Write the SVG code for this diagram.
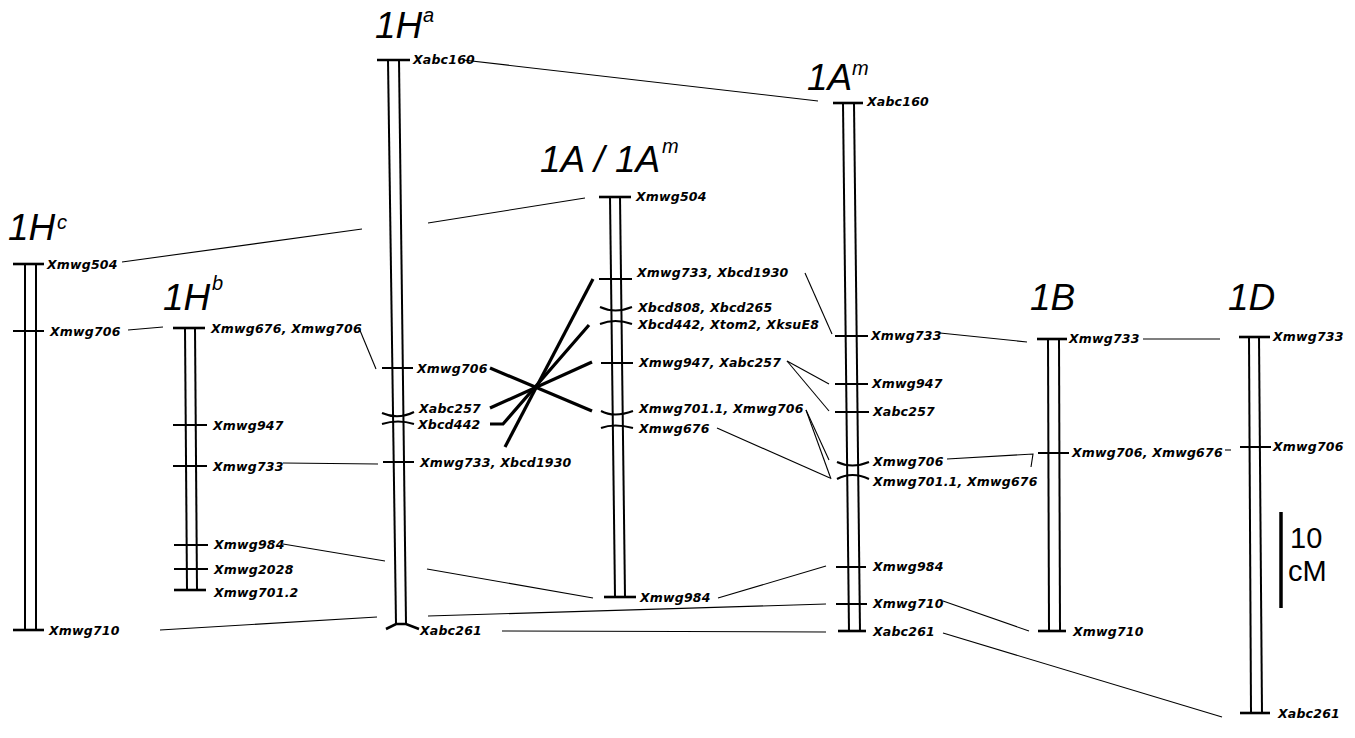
<svg xmlns="http://www.w3.org/2000/svg" width="1355" height="738" viewBox="0 0 1355 738">
<style>
.bar{stroke:#000;stroke-width:2;fill:none}
.tk{stroke:#000;stroke-width:2;fill:none}
.end{stroke:#000;stroke-width:2.6;fill:none}
.lb{font-family:"DejaVu Sans",sans-serif;font-size:12.5px;font-weight:bold;font-style:oblique;letter-spacing:0.2px;fill:#000}
.ti{font-family:"Liberation Sans",sans-serif;font-size:37px;font-style:italic;fill:#000}
.sp{font-family:"Liberation Sans",sans-serif;font-size:20px;font-style:italic;fill:#000}
.cn{stroke:#000;stroke-width:1.1;fill:none}
.cx{stroke:#000;stroke-width:3.2;fill:none}
.sc{font-family:"Liberation Sans",sans-serif;font-size:29px;fill:#000}
</style>
<rect width="1355" height="738" fill="#fff"/>

<g id="chr-1Hc">
<text class="ti" x="8" y="240">1H</text><text class="sp" x="57" y="229">c</text>
<line class="bar" x1="25" y1="264" x2="25" y2="630"/>
<line class="bar" x1="36" y1="264" x2="36" y2="630"/>
<line class="end" x1="13" y1="264" x2="44" y2="264"/>
<line class="tk" x1="13" y1="331" x2="44" y2="331"/>
<line class="end" x1="13" y1="630" x2="44" y2="630"/>
<text class="lb" x="47" y="268.5">Xmwg504</text>
<text class="lb" x="50" y="335.5">Xmwg706</text>
<text class="lb" x="49" y="634.5">Xmwg710</text>
</g>

<g id="chr-1Hb">
<text class="ti" x="163" y="310">1H</text><text class="sp" x="212" y="290">b</text>
<line class="bar" x1="185" y1="328" x2="187" y2="590"/>
<line class="bar" x1="195" y1="328" x2="197" y2="590"/>
<line class="end" x1="173" y1="328" x2="205" y2="328"/>
<line class="tk" x1="173" y1="425" x2="207" y2="425"/>
<line class="tk" x1="173" y1="466" x2="207" y2="466"/>
<line class="tk" x1="174" y1="545" x2="208" y2="545"/>
<line class="tk" x1="174" y1="569" x2="208" y2="569"/>
<line class="end" x1="174" y1="590" x2="206" y2="590"/>
<text class="lb" x="211" y="332.5">Xmwg676,  Xmwg706</text>
<text class="lb" x="213" y="429.5">Xmwg947</text>
<text class="lb" x="213" y="470.5">Xmwg733</text>
<text class="lb" x="214" y="549">Xmwg984</text>
<text class="lb" x="214" y="573.5">Xmwg2028</text>
<text class="lb" x="214" y="597">Xmwg701.2</text>
</g>

<g id="chr-1Ha">
<text class="ti" x="375" y="38">1H</text><text class="sp" x="423" y="22">a</text>
<line class="bar" x1="388" y1="60" x2="396" y2="624"/>
<line class="bar" x1="399" y1="60" x2="406" y2="624"/>
<line class="end" x1="377" y1="60" x2="410" y2="60"/>
<line class="tk" x1="382" y1="368" x2="413" y2="368"/>
<path class="tk" d="M382,413 Q398,420 414,412"/>
<path class="tk" d="M382,424 Q398,419 414,424"/>
<line class="tk" x1="383" y1="462" x2="414" y2="462"/>
<path class="end" d="M386,629 L396,624 L406,624 L419,629"/>
<text class="lb" x="413" y="64">Xabc160</text>
<text class="lb" x="417" y="372.5">Xmwg706</text>
<text class="lb" x="419" y="412.5">Xabc257</text>
<text class="lb" x="418" y="428.5">Xbcd442</text>
<text class="lb" x="420" y="466.5">Xmwg733,  Xbcd1930</text>
<text class="lb" x="420" y="635">Xabc261</text>
</g>

<g id="chr-1A-1Am">
<text class="ti" x="540" y="172">1A</text><text class="ti" x="594" y="172">/</text><text class="ti" x="615" y="172">1A</text><text class="sp" x="662" y="153">m</text>
<line class="bar" x1="610" y1="197" x2="615" y2="597"/>
<line class="bar" x1="620" y1="197" x2="625" y2="597"/>
<line class="end" x1="599" y1="197" x2="631" y2="197"/>
<line class="tk" x1="599" y1="279" x2="632" y2="279"/>
<path class="tk" d="M600,307 Q615,314 632,307"/>
<path class="tk" d="M600,324 Q615,318 632,324"/>
<line class="tk" x1="601" y1="363" x2="633" y2="363"/>
<path class="tk" d="M601,411 Q614,418 633,411"/>
<path class="tk" d="M601,428 Q614,423 633,428"/>
<line class="end" x1="604" y1="597" x2="636" y2="597"/>
<text class="lb" x="636" y="200.5">Xmwg504</text>
<text class="lb" x="637" y="277">Xmwg733,  Xbcd1930</text>
<text class="lb" x="638" y="312">Xbcd808,  Xbcd265</text>
<text class="lb" x="638" y="328.5">Xbcd442, Xtom2, XksuE8</text>
<text class="lb" x="639" y="366.5">Xmwg947,  Xabc257</text>
<text class="lb" x="639" y="413">Xmwg701.1,  Xmwg706</text>
<text class="lb" x="639" y="433">Xmwg676</text>
<text class="lb" x="640" y="601.5">Xmwg984</text>
</g>

<g id="chr-1Am">
<text class="ti" x="807" y="90">1A</text><text class="sp" x="852" y="75">m</text>
<line class="bar" x1="843" y1="103" x2="849" y2="631"/>
<line class="bar" x1="854" y1="103" x2="860" y2="631"/>
<line class="end" x1="833" y1="103" x2="863" y2="103"/>
<line class="tk" x1="835" y1="336" x2="868" y2="336"/>
<line class="tk" x1="835" y1="384" x2="868" y2="384"/>
<line class="tk" x1="835" y1="412" x2="869" y2="412"/>
<path class="tk" d="M837,462 Q852,469 869,462"/>
<path class="tk" d="M837,479 Q852,471 869,479"/>
<line class="tk" x1="836" y1="567" x2="866" y2="567"/>
<line class="tk" x1="836" y1="604" x2="867" y2="604"/>
<line class="end" x1="838" y1="631" x2="866" y2="631"/>
<text class="lb" x="867" y="106">Xabc160</text>
<text class="lb" x="871" y="339.5">Xmwg733</text>
<text class="lb" x="872" y="387.5">Xmwg947</text>
<text class="lb" x="873" y="416">Xabc257</text>
<text class="lb" x="873" y="466">Xmwg706</text>
<text class="lb" x="873" y="486">Xmwg701.1,  Xmwg676</text>
<text class="lb" x="873" y="571">Xmwg984</text>
<text class="lb" x="873" y="608">Xmwg710</text>
<text class="lb" x="873" y="636">Xabc261</text>
</g>

<g id="chr-1B">
<text class="ti" x="1030" y="310">1B</text>
<line class="bar" x1="1048" y1="339" x2="1049" y2="631"/>
<line class="bar" x1="1059" y1="339" x2="1060" y2="631"/>
<line class="end" x1="1037" y1="339" x2="1067" y2="339"/>
<line class="tk" x1="1038" y1="453" x2="1069" y2="453"/>
<line class="end" x1="1038" y1="631" x2="1066" y2="631"/>
<text class="lb" x="1069" y="342.5">Xmwg733</text>
<text class="lb" x="1072" y="457">Xmwg706,  Xmwg676</text>
<text class="lb" x="1073" y="636">Xmwg710</text>
</g>

<g id="chr-1D">
<text class="ti" x="1228" y="310">1D</text>
<line class="bar" x1="1249" y1="337" x2="1251" y2="713"/>
<line class="bar" x1="1259" y1="337" x2="1262" y2="713"/>
<line class="end" x1="1239" y1="337" x2="1270" y2="337"/>
<line class="tk" x1="1240" y1="447" x2="1271" y2="447"/>
<line class="end" x1="1240" y1="713" x2="1270" y2="713"/>
<text class="lb" x="1273" y="341">Xmwg733</text>
<text class="lb" x="1273" y="451">Xmwg706</text>
<text class="lb" x="1278" y="718">Xabc261</text>
</g>

<g id="scale-bar">
<line x1="1281" y1="512" x2="1281" y2="608" stroke="#000" stroke-width="3.5"/>
<text class="sc" x="1290" y="548">10</text>
<text class="sc" x="1288" y="581">cM</text>
</g>

<g id="connectors">
<line class="cn" x1="463" y1="60" x2="818" y2="101"/>
<line class="cn" x1="122" y1="262" x2="362" y2="229"/>
<line class="cn" x1="428" y1="223" x2="585" y2="198"/>
<line class="cn" x1="128" y1="330" x2="163" y2="327"/>
<line class="cn" x1="359" y1="328" x2="376" y2="369"/>
<line class="cn" x1="283" y1="463" x2="378" y2="464"/>
<line class="cn" x1="283" y1="544" x2="385" y2="561"/>
<line class="cn" x1="427" y1="569" x2="593" y2="598"/>
<line class="cn" x1="160" y1="630" x2="377" y2="617"/>
<line class="cn" x1="428" y1="616" x2="826" y2="604"/>
<line class="cn" x1="502" y1="631" x2="826" y2="632"/>
<line class="cn" x1="718" y1="598" x2="826" y2="566"/>
<line class="cn" x1="805" y1="273" x2="832" y2="334"/>
<line class="cn" x1="787" y1="361" x2="829" y2="384"/>
<line class="cn" x1="787" y1="361" x2="829" y2="411"/>
<line class="cn" x1="806" y1="410" x2="829" y2="460"/>
<line class="cn" x1="806" y1="410" x2="831" y2="479"/>
<line class="cn" x1="717" y1="428" x2="830" y2="478"/>
<line class="cn" x1="940" y1="333" x2="1027" y2="342"/>
<polyline class="cn" points="947,459 1033,454 1031,467"/>
<line class="cn" x1="1143" y1="339" x2="1220" y2="339"/>
<line class="cn" x1="1225" y1="450" x2="1231" y2="450"/>
<line class="cn" x1="943" y1="601" x2="1029" y2="631"/>
<line class="cn" x1="943" y1="633" x2="1222" y2="717"/>
<line class="cx" x1="490" y1="368" x2="592" y2="411"/>
<line class="cx" x1="490" y1="408" x2="592" y2="362"/>
<polyline class="cx" points="490,424 503,424 589,325"/>
<line class="cx" x1="505" y1="447" x2="593" y2="279"/>
</g>
</svg>
